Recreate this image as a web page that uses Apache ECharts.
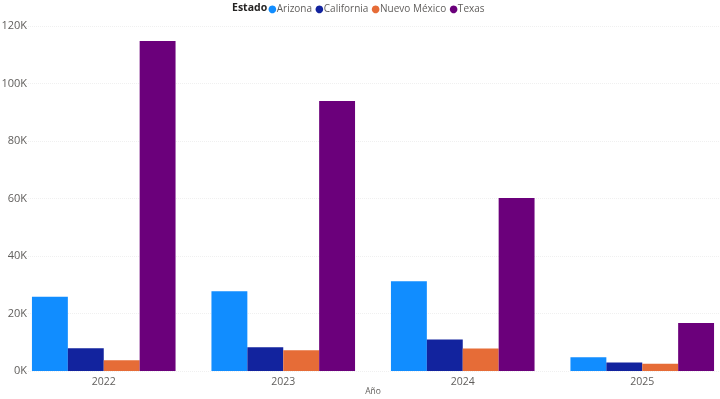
<!DOCTYPE html>
<html>
<head>
<meta charset="utf-8">
<script src="https://cdn.jsdelivr.net/npm/echarts@6/dist/echarts.min.js"></script>
<style>
  html, body { margin: 0; padding: 0; background: #fff; }
  #chart { width: 720px; height: 399px; }
</style>
</head>
<body>
<div id="chart"></div>
<script>
var years = ['2022', '2023', '2024', '2025'];
var estados = ['Arizona', 'California', 'Nuevo México', 'Texas'];
var arizona = [25800, 27700, 31200, 4800];
var california = [7900, 8300, 11000, 3000];
var nuevoMexico = [3700, 7200, 7800, 2500];
var texas = [114800, 93900, 60200, 16700];
var yTicks = [0, 20000, 40000, 60000, 80000, 100000, 120000];

var colores = ['#118DFF', '#12239E', '#E66C37', '#6B007B'];
var valores = [arizona, california, nuevoMexico, texas];
var fuente = '"Open Sans", "Noto Sans", sans-serif';

var chart = echarts.init(document.getElementById('chart'));

var series = estados.map(function (nombre, i) {
  return {
    name: nombre,
    type: 'bar',
    data: valores[i],
    barGap: '0%',
    barCategoryGap: '20%',
    itemStyle: { color: colores[i] }
  };
});

// puntos de color de la leyenda como texto enriquecido
var richLeyenda = {};
colores.forEach(function (c, i) {
  richLeyenda['p' + i] = { color: c, fontSize: 10, fontFamily: '"DejaVu Sans"', padding: [0, 0, 0, 0] };
});

chart.setOption({
  animation: false,
  color: colores,
  textStyle: { fontFamily: fuente },
  grid: { left: 14, right: -12, top: 26, bottom: 28, containLabel: false, outerBoundsMode: 'none' },
  graphic: [{
    type: 'text',
    left: 232,
    top: 3,
    style: { text: 'Estado', font: 'bold 10.5px ' + fuente, fill: '#252423' }
  }],
  legend: {
    data: estados,
    left: 262,
    top: 4,
    padding: 0,
    icon: 'none',
    itemWidth: 1,
    itemHeight: 7,
    itemGap: -3,
    formatter: function (name) {
      return '{p' + estados.indexOf(name) + '|●}' + name;
    },
    textStyle: { color: '#605E5C', fontSize: 10, fontFamily: fuente, rich: richLeyenda }
  },
  xAxis: {
    type: 'category',
    data: years,
    name: 'Año',
    nameLocation: 'middle',
    nameGap: 16,
    nameMoveOverlap: false,
    nameTextStyle: { color: '#605E5C', fontSize: 8.5 },
    axisLine: { show: false },
    axisTick: { show: false },
    axisLabel: { color: '#605E5C', fontSize: 10.5, margin: 6 }
  },
  yAxis: {
    type: 'value',
    min: yTicks[0],
    max: yTicks[yTicks.length - 1],
    interval: 20000,
    axisLine: { show: false },
    axisTick: { show: false },
    axisLabel: {
      color: '#605E5C',
      fontSize: 11,
      margin: -13,
      formatter: function (v) { return (v / 1000) + 'K'; }
    },
    splitLine: { lineStyle: { color: '#F0F0F0', type: 'dotted', width: 1 } }
  },
  series: series
});
</script>
</body>
</html>
